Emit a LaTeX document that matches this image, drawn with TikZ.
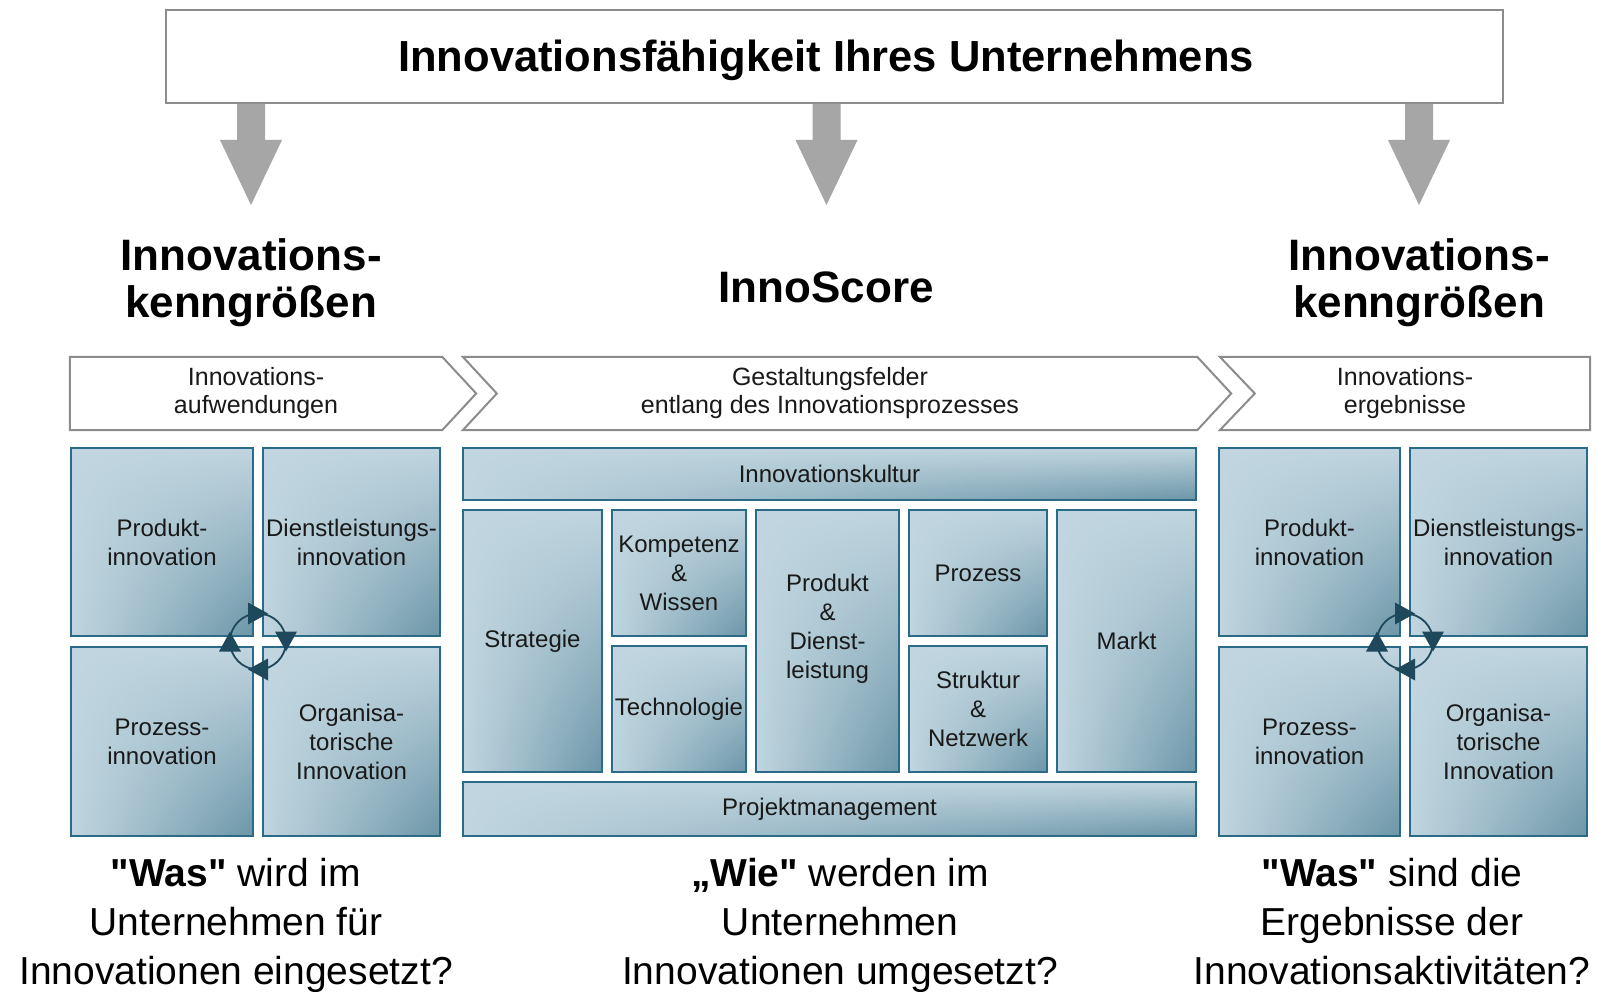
\documentclass[tikz,border=0pt]{standalone}
\usepackage{fontspec}
\setmainfont{Liberation Sans}
\usetikzlibrary{calc,shadings}
\definecolor{celllight}{RGB}{192,213,223}
\definecolor{celldark}{RGB}{108,150,168}
\definecolor{cellborder}{RGB}{42,107,137}
\definecolor{cyccol}{RGB}{30,72,92}
\definecolor{chevline}{RGB}{140,140,140}
\definecolor{arrowgray}{RGB}{166,166,166}
\definecolor{txt}{RGB}{25,25,25}
\newcommand\cyclemark[1]{%
  \draw[cyccol, line width=1.8pt] (#1) circle[radius=28];
  \fill[cyccol] ($(#1)+(-10,-39)$) -- ++(0,22) -- ++(20,-11) -- cycle;
  \fill[cyccol] ($(#1)+(39,-10)$) -- ++(-22,0) -- ++(11,20) -- cycle;
  \fill[cyccol] ($(#1)+(10,39)$) -- ++(0,-22) -- ++(-20,11) -- cycle;
  \fill[cyccol] ($(#1)+(-39,10)$) -- ++(22,0) -- ++(-11,-20) -- cycle;
}
\begin{document}
\begin{tikzpicture}[x=1pt,y=-1pt,
  cell/.style={draw=cellborder, line width=2pt, shade,
    upper left=celllight, upper right=celllight, lower left=celllight, lower right=celldark,
    inner sep=0pt, align=center, text=txt, font=\fontsize{24}{29}\selectfont},
  topbox/.style={draw=chevline, line width=2pt, fill=white, inner sep=0pt},
  titletext/.style={font=\bfseries\fontsize{43.5}{47}\selectfont, inner sep=0pt},
  heading/.style={font=\bfseries\fontsize{44}{47}\selectfont, align=center, inner sep=0pt},
  chevtext/.style={inner sep=0pt, align=center, text=txt, font=\fontsize{25}{28}\selectfont},
  chevron/.style={draw=chevline, line width=2pt, line join=miter},
  question/.style={font=\fontsize{39}{49}\selectfont, align=center, inner sep=0pt, anchor=north},
  bigarrow/.style={fill=arrowgray}
]
\useasboundingbox[fill=white] (0,0) rectangle (1597,992);

% top box
\node[topbox, minimum width=1337, minimum height=93] (top) at (834.5,56.5) {};
\node[titletext] (title) at (826,60.5) {Innovationsfähigkeit Ihres Unternehmens};

% headings
\node[heading, anchor=north] (hl) at (251,238.5) {Innovations-\\kenngrößen};
\node[heading, anchor=base] (hm) at (826,302) {InnoScore};
\node[heading, anchor=north] (hr) at (1419,238.5) {Innovations-\\kenngrößen};

% big arrows
\coordinate (tl) at (251,205);
\coordinate (tm) at (826.5,205);
\coordinate (tr) at (1419,205);
\foreach \t in {tl,tm,tr}{
  \fill[bigarrow] ($(top.south -| \t)+(-14,0)$) -- ++(28,0) -- ++(0,36) -- ++(17,0)
    -- (\t) -- ++(-31,-65) -- ++(17,0) -- cycle;
}

% chevrons
\node[chevtext, minimum width=372, minimum height=73] (c1) at (256,393.5) {Innovations-\\aufwendungen};
\node[chevtext, minimum width=734, minimum height=73] (c2) at (830,393.5) {Gestaltungsfelder\\entlang des Innovationsprozesses};
\node[chevtext, minimum width=370, minimum height=73] (c3) at (1405,393.5) {Innovations-\\ergebnisse};
\draw[chevron] (c1.north west) -- (c1.north east) -- ([xshift=34pt]c1.east) -- (c1.south east) -- (c1.south west) -- cycle;
\draw[chevron] (c2.north west) -- (c2.north east) -- ([xshift=34pt]c2.east) -- (c2.south east) -- (c2.south west) -- ([xshift=34pt]c2.west) -- cycle;
\draw[chevron] (c3.north west) -- (c3.north east) -- (c3.south east) -- (c3.south west) -- ([xshift=35pt]c3.west) -- cycle;

% left cells
\node[cell, minimum width=182, minimum height=188] (lp) at (162,542) {Produkt-\\innovation};
\node[cell, minimum width=177, minimum height=188] (ld) at (351.5,542) {Dienstleistungs-\\innovation};
\node[cell, minimum width=182, minimum height=189] (lz) at (162,741.5) {Prozess-\\innovation};
\node[cell, minimum width=177, minimum height=189] (lo) at (351.5,741.5) {Organisa-\\torische\\Innovation};

% right cells
\node[cell, minimum width=181, minimum height=188] (rp) at (1309.5,542) {Produkt-\\innovation};
\node[cell, minimum width=177, minimum height=188] (rd) at (1498.5,542) {Dienstleistungs-\\innovation};
\node[cell, minimum width=181, minimum height=189] (rz) at (1309.5,741.5) {Prozess-\\innovation};
\node[cell, minimum width=177, minimum height=189] (ro) at (1498.5,741.5) {Organisa-\\torische\\Innovation};

% middle cells
\node[cell, minimum width=733, minimum height=52] (ik) at (829.5,474) {Innovationskultur};
\node[cell, minimum width=139, minimum height=262] (st) at (532.5,641) {Strategie};
\node[cell, minimum width=134, minimum height=126] (kw) at (679,573) {Kompetenz\\\&\\Wissen};
\node[cell, minimum width=134, minimum height=126] (te) at (679,709) {Technologie};
\node[cell, minimum width=143, minimum height=262] (pd) at (827.5,641) {Produkt\\\&\\Dienst-\\leistung\\~};
\node[cell, minimum width=138, minimum height=126] (pr) at (978,573) {Prozess};
\node[cell, minimum width=138, minimum height=126] (sn) at (978,709) {Struktur\\\&\\Netzwerk};
\node[cell, minimum width=139, minimum height=262] (ma) at (1126.5,641) {Markt};
\node[cell, minimum width=733, minimum height=54] (pm) at (829.5,809) {Projektmanagement};

% cycle marks
\coordinate (lcyc) at ($(lp.south east)!0.5!(lo.north west)$);
\coordinate (rcyc) at ($(rp.south east)!0.5!(ro.north west)$);
\cyclemark{lcyc}
\cyclemark{rcyc}

% questions
\node[question] (ql) at (236,858) {\textbf{\textquotedbl Was\textquotedbl} wird im\\Unternehmen für\\Innovationen eingesetzt?};
\node[question] (qm) at (840,858) {\textbf{„Wie\textquotedbl} werden im\\Unternehmen\\Innovationen umgesetzt?};
\node[question] (qr) at (1392,858) {\textbf{\textquotedbl Was\textquotedbl} sind die\\Ergebnisse der\\Innovationsaktivitäten?};
\end{tikzpicture}
\end{document}
